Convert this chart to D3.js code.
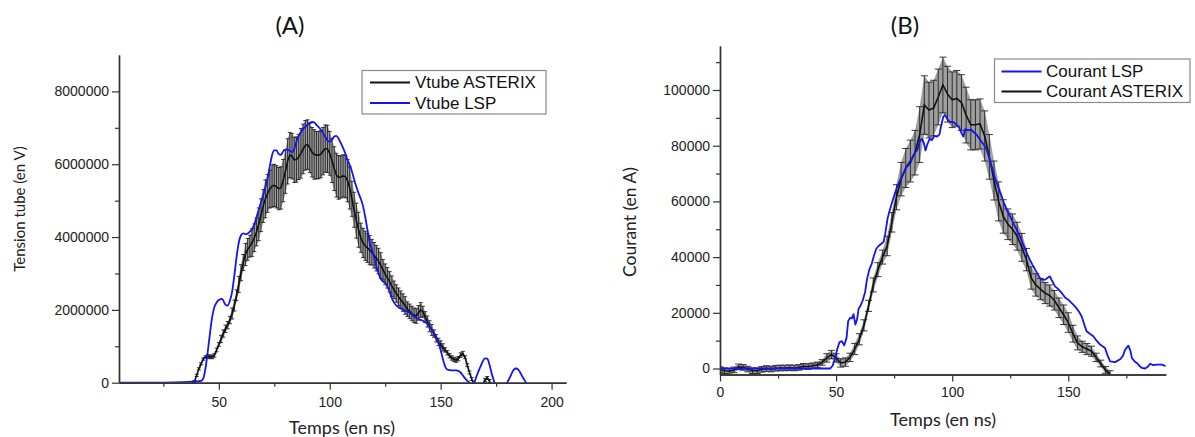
<!DOCTYPE html>
<html>
<head>
<meta charset="utf-8">
<script src="https://cdn.jsdelivr.net/npm/d3@7"></script>
<style>
  body { margin: 0; background: #fff; }
  svg { display: block; }
</style>
</head>
<body>
<svg id="fig" width="1195" height="437"></svg>
<script>
// ---------- Panel (A): tube voltage, values in MV ----------
const asterixA_t = [38,39,40,41,42,43,44,45,46,47,48,49,50,51,52,53,54,55,56,57,58,59,60,61,62,63,64,65,66,67,68,69,70,71,72,73,74,75,76,77,78,79,80,81,82,83,84,85,86,87,88,89,90,91,92,93,94,95,96,97,98,99,100,101,102,103,104,105,106,107,108,109,110,111,112,113,114,115,116,117,118,119,120,121,122,123,124,125,126,127,128,129,130,131,132,133,134,135,136,137,138,139,140,141,142,143,144,145,146,147,148,149,150,151,152,153,154,155,156,157,158,159,160,161,162,163,164,165,166,167,168,169,170,171,172,173,174,175];
const asterixA_v = [0,0.03,0.2,0.38,0.52,0.65,0.71,0.72,0.71,0.71,0.75,0.9,1.05,1.2,1.35,1.48,1.58,1.72,1.9,2.12,2.4,2.7,3.02,3.3,3.52,3.66,3.75,3.85,3.98,4.14,4.35,4.6,4.85,5.05,5.2,5.32,5.4,5.42,5.38,5.33,5.35,5.55,5.8,6.08,6.25,6.22,6.12,6.13,6.2,6.3,6.42,6.52,6.54,6.45,6.33,6.27,6.25,6.25,6.28,6.36,6.43,6.42,6.3,6.1,5.88,5.7,5.64,5.65,5.68,5.66,5.55,5.35,5.05,4.75,4.45,4.2,3.98,3.84,3.76,3.7,3.64,3.58,3.5,3.42,3.34,3.22,3.1,2.98,2.88,2.77,2.65,2.55,2.45,2.36,2.28,2.2,2.12,2.02,1.96,1.9,1.85,1.83,1.92,2.0,1.95,1.8,1.68,1.55,1.45,1.35,1.22,1.12,1.05,0.97,0.9,0.82,0.74,0.68,0.64,0.62,0.66,0.76,0.8,0.7,0.48,0.28,0.1,-0.05,-0.2,-0.3,-0.25,-0.1,0.08,0.13,0.05,-0.15,-0.3,-0.4];
const asterixA_err = [0.03,0.03,0.03,0.03,0.03,0.03,0.03,0.05,0.05,0.05,0.05,0.05,0.05,0.1,0.1,0.1,0.1,0.1,0.15,0.15,0.15,0.22,0.22,0.22,0.3,0.3,0.3,0.38,0.38,0.38,0.45,0.45,0.45,0.52,0.52,0.52,0.58,0.58,0.58,0.58,0.58,0.58,0.6,0.62,0.62,0.62,0.62,0.62,0.62,0.68,0.68,0.68,0.68,0.68,0.68,0.68,0.65,0.65,0.65,0.65,0.65,0.65,0.6,0.6,0.6,0.6,0.6,0.58,0.58,0.58,0.58,0.58,0.48,0.48,0.48,0.48,0.4,0.4,0.4,0.4,0.4,0.35,0.35,0.35,0.35,0.35,0.28,0.28,0.28,0.28,0.28,0.24,0.24,0.24,0.24,0.24,0.24,0.2,0.2,0.2,0.2,0.2,0.2,0.2,0.15,0.15,0.15,0.15,0.15,0.1,0.1,0.1,0.1,0.1,0.06,0.06,0.06,0.06,0.06,0.06,0.06,0.06,0.06,0.04,0.04,0.04,0.04,0.04,0.04,0.04,0.04,0.04,0.04,0.04,0.04,0.04,0.04,0.04];

const lspA_t = [5,20,30,38,41,42,43,44,45,46,47,48,49,50,51.5,53,54,55,56,57,58,59,60,61,62,63,64,65,66,67,68,70,72,73,74,75,76,77,78,79,80,81,82,83,84,85,86,87,88,90,92,93,94,96,98,99,100,101,102,103,104,105,106,107,108,109,110,111,112,113,114,115,116,117,118,119,120,121,122,123,124,125,126,127,128,129,130,132,134,136,138,140,142,144,146,148,149,150,151,152,153,155,157,159,160,161,162,163,164,165,166,168,170,171,172,173,174,175,177,179,180,181,183,184,185,187,188.5,190,193,197,202,206];
const lspA_v = [0,0,0.01,0.03,0.04,0.05,0.12,0.4,0.85,1.35,1.8,2.08,2.2,2.27,2.3,2.14,2.12,2.25,2.5,2.95,3.45,3.85,4.05,4.1,4.08,4.1,4.15,4.22,4.35,4.55,4.75,5.15,5.62,5.95,6.25,6.38,6.38,6.28,6.26,6.35,6.4,6.4,6.37,6.33,6.42,6.62,6.78,6.88,6.97,7.08,7.16,7.15,7.08,6.95,6.75,6.65,6.62,6.68,6.76,6.78,6.7,6.58,6.45,6.3,6.12,5.98,5.8,5.58,5.38,5.2,5.05,4.85,4.55,4.2,3.85,3.65,3.45,3.2,3.0,2.85,2.78,2.74,2.63,2.5,2.32,2.2,2.12,2.04,1.98,1.92,1.82,1.75,1.7,1.62,1.45,1.25,1.12,0.9,0.65,0.45,0.36,0.34,0.34,0.28,0.2,0.12,0.05,0.0,-0.05,-0.02,0.15,0.45,0.67,0.66,0.5,0.25,0.05,-0.15,-0.35,-0.15,0.0,0.12,0.36,0.39,0.36,0.15,0.0,-0.15,-0.3,-0.2,-0.1,-0.1];

const xTicksA = [50, 100, 150, 200];
const xMinorA = [25, 75, 125, 175];
const yTicksA = [0, 2000000, 4000000, 6000000, 8000000];
const yMinorA = [1000000, 3000000, 5000000, 7000000];

// ---------- Panel (B): current, values in kA ----------
const asterixB_t = [0,2,4,6,8,10,12,14,16,18,20,22,24,26,28,30,32,34,36,38,40,42,44,46,48,50,52,54,56,58,60,62,64,66,68,70,72,74,76,78,80,82,84,86,88,90,92,94,96,98,100,102,104,106,108,110,112,114,116,118,120,122,124,126,128,130,132,134,136,138,140,142,144,146,148,150,152,154,156,158,160,162,164,166,168];
const asterixB_v = [-0.4,-0.8,-1.0,-0.5,0.6,0.4,-0.2,-0.8,-0.8,-0.3,0,-0.2,0.1,0.2,0.2,0.3,0.2,0.4,0.8,0.7,1.0,1.3,2.2,3.8,5.0,3.8,2.0,2.3,4.0,7.0,10.5,15.5,22.5,30.0,35.5,40.0,44.0,52.5,61.5,68.0,72.0,74.5,77.5,84.0,94.6,92.8,93.5,97.5,101.8,98.5,96.5,97.0,95.5,91.0,87.5,87.5,87.8,83.5,76.0,67.5,60.0,54.6,51.8,50.0,47.5,43.5,39.1,32.5,30.0,28.5,27.1,26.2,24.5,21.8,19.3,16.5,12.5,9.2,7.8,7.0,6.2,4.0,1.8,-0.5,-2.0];
const asterixB_err = [1,1,1,1,1,1,1,1,1,1,1,1,1,1,1,1,1,1,1,1,1,1,1,1.5,1.5,1.5,1.5,1.5,1.5,2,2,2,2,2.5,2.5,2.5,3.5,3.5,4.5,6,7,7.5,8,10,10.5,10,10,10,10,10,10,10,10,10,9,9,9,9,8,7,7,6,5.5,5.5,5,5,4,4,4,3.8,3.8,3.8,3.5,3.5,3.5,3.5,3,2.5,2,2,1.8,1.5,1.2,1.2,1.2];

const lspB_t = [0,10,20,30,40,47.5,48.5,49.5,50.5,51.5,52.5,53.5,54.5,55.2,56,56.8,57.5,58.3,59,59.7,60.5,61.5,62.5,63.3,64.3,65.3,66.3,67.3,68.3,69.5,70.5,71.2,72.2,73,74,75,76.3,77.5,79,80.5,82,83,84,85,86,87,87.8,88.5,89.3,90.3,91.3,92.3,93.5,94.5,95.2,96.2,97,98,99,100.5,102,103,104,104.8,105.7,106.8,108,109.1,110.5,112,113.5,114.9,116,117,118.2,119.2,120.3,121.3,122.5,123.5,125,126.3,127.7,129.2,130.6,132.1,133.5,134.9,136.4,137.8,139,140,141,142.1,143,144.3,145.7,147.2,148.6,150,151.5,152.9,154.3,155.8,157,157.9,159.3,160.8,162.2,163.7,164.8,165.8,167,168,170.2,172.3,173.5,174.5,175.9,176.7,177.4,178.5,179.5,180.6,181.7,183.1,184.2,185.3,186.5,188.2,190.3,191.2,192];
const lspB_v = [0,0,0,0,0,0,1.0,3.5,7.0,9.5,9.8,8.3,11.0,17.0,18.2,18.0,19.5,15.8,17.5,21.5,22.5,24.5,27.5,32.0,35.5,37.5,40.5,43.0,44.0,44.8,45.5,48.6,54.0,56.5,59.4,62.0,65.3,67.5,70.0,72.5,73.7,76.0,77.5,78.5,81.5,82.5,81.0,78.3,80.5,82.5,82.0,83.5,83.3,84.0,87.0,90.5,91.0,89.5,88.6,88.5,87.4,86.5,84.5,83.3,86.0,85.5,85.8,85.0,84.0,82.1,80.5,78.5,75.5,72.5,69.0,66.6,64.0,61.8,59.0,57.0,54.5,52.2,50.0,47.4,44.5,41.5,39.0,36.7,34.5,32.5,31.8,31.9,32.5,33.1,31.5,29.5,28.5,27.1,25.5,24.7,23.5,22.3,20.8,18.7,15.5,13.4,12.5,11.6,10.0,8.6,8.0,7.4,4.5,2.6,2.3,3.3,4.5,6.8,8.2,6.5,3.8,2.6,2.0,1.0,0.2,0.0,0.6,1.7,1.2,1.4,1.4,1.1,0.8];

const xTicksB = [0, 50, 100, 150];
const xMinorB = [25, 75, 125, 175];
const yTicksB = [0, 20000, 40000, 60000, 80000, 100000];
const yMinorB = [10000, 30000, 50000, 70000, 90000, 110000];

const MV = 1e6, KA = 1e3;
const BLUE = "#1414f0", BLACK = "#111";
const TICK_FONT = "'Liberation Sans', Arial, sans-serif";
const TITLE_FONT = "Lato, 'Open Sans', sans-serif";

const svg = d3.select("#fig");

function zip(ts, vs, es, unit) {
  return ts.map((t, i) => ({ t, v: vs[i] * unit, e: es ? es[i] * unit : 0 }));
}

function drawPanel(o) {
  const g = svg.append("g");
  const x = d3.scaleLinear().domain(o.xDomain).range(o.xRange);
  const y = d3.scaleLinear().domain(o.yDomain).range(o.yRange);

  const clipId = "clip-" + o.id;
  svg.append("clipPath").attr("id", clipId).append("rect")
    .attr("x", o.xRange[0]).attr("y", o.yRange[1])
    .attr("width", o.xRange[1] - o.xRange[0])
    .attr("height", o.yRange[0] - o.yRange[1]);

  const plot = g.append("g").attr("clip-path", `url(#${clipId})`);

  // measured series: shaded band, error bars, mean line
  const meas = o.measured;
  plot.append("path").datum(meas)
    .attr("d", d3.area().x(d => x(d.t)).y0(d => y(d.v - d.e)).y1(d => y(d.v + d.e)))
    .attr("fill", "#8e8e8e").attr("opacity", 0.85);

  const bars = plot.append("g").attr("stroke", "#222").attr("stroke-width", 0.9);
  meas.forEach(d => {
    const xi = x(d.t), lo = y(d.v - d.e), hi = y(d.v + d.e), c = o.cap / 2;
    bars.append("line").attr("x1", xi).attr("x2", xi).attr("y1", lo).attr("y2", hi);
    bars.append("line").attr("x1", xi - c).attr("x2", xi + c).attr("y1", lo).attr("y2", lo);
    bars.append("line").attr("x1", xi - c).attr("x2", xi + c).attr("y1", hi).attr("y2", hi);
  });

  plot.append("path").datum(meas)
    .attr("d", d3.line().x(d => x(d.t)).y(d => y(d.v)))
    .attr("fill", "none").attr("stroke", BLACK).attr("stroke-width", 1.6);

  // simulated series
  plot.append("path").datum(o.simulated)
    .attr("d", d3.line().x(d => x(d.t)).y(d => y(d.v)).curve(o.simCurve))
    .attr("fill", "none").attr("stroke", BLUE).attr("stroke-width", 1.8)
    .attr("stroke-linejoin", "round");

  // axes
  const styleAxis = sel => {
    sel.select(".domain").attr("stroke", "#333").attr("stroke-width", 1.4);
    sel.selectAll(".tick line").attr("stroke", "#333").attr("stroke-width", 1.2);
    sel.selectAll(".tick text").attr("fill", "#222")
      .style("font-family", TICK_FONT).style("font-size", "14px");
  };

  g.append("g").attr("transform", `translate(0,${o.yRange[0]})`)
    .call(d3.axisBottom(x).tickValues(o.xMinor).tickSize(4).tickSizeOuter(0).tickFormat(""))
    .call(styleAxis);
  g.append("g").attr("transform", `translate(0,${o.yRange[0]})`)
    .call(d3.axisBottom(x).tickValues(o.xTicks).tickSize(7).tickPadding(o.xPad).tickSizeOuter(0).tickFormat(d3.format("d")))
    .call(styleAxis);
  g.append("g").attr("transform", `translate(${o.xRange[0]},0)`)
    .call(d3.axisLeft(y).tickValues(o.yMinor).tickSize(4).tickSizeOuter(0).tickFormat(""))
    .call(styleAxis);
  g.append("g").attr("transform", `translate(${o.xRange[0]},0)`)
    .call(d3.axisLeft(y).tickValues(o.yTicks).tickSize(7).tickPadding(3).tickSizeOuter(0).tickFormat(d3.format("d")))
    .call(styleAxis);

  // titles
  g.append("text").attr("x", o.label[0]).attr("y", o.label[1]).attr("dy", "0.35em")
    .attr("text-anchor", "middle").style("font-family", TITLE_FONT).style("font-size", "24px")
    .attr("fill", "#111").text(o.label[2]);
  g.append("text").attr("x", o.xTitle[0]).attr("y", o.xTitle[1]).attr("dy", "0.35em")
    .attr("text-anchor", "middle").style("font-family", TITLE_FONT).style("font-size", "18px")
    .attr("fill", "#222").text(o.xTitle[2]);
  g.append("text").attr("transform", `translate(${o.yTitle[0]},${o.yTitle[1]}) rotate(-90)`)
    .attr("dy", "0.35em").attr("text-anchor", "middle").style("font-family", TITLE_FONT)
    .style("font-size", o.yTitle[3] + "px").attr("fill", "#222").text(o.yTitle[2]);

  // legend
  const L = o.legend;
  const lg = g.append("g");
  lg.append("rect").attr("x", L.x).attr("y", L.y).attr("width", L.w).attr("height", L.h)
    .attr("fill", "#fff").attr("stroke", "#8a8a8a").attr("stroke-width", 1.2);
  L.items.forEach((it, i) => {
    const yy = L.y + L.first + i * L.step;
    lg.append("line").attr("x1", L.x + L.lx0).attr("x2", L.x + L.lx1).attr("y1", yy).attr("y2", yy)
      .attr("stroke", it.color).attr("stroke-width", 2);
    lg.append("text").attr("x", L.x + L.tx).attr("y", yy).attr("dy", "0.35em")
      .style("font-family", TICK_FONT).style("font-size", "17px").attr("fill", "#111").text(it.name);
  });
}

drawPanel({
  id: "A",
  xDomain: [5, 206.5], xRange: [119, 566],
  yDomain: [0, 9000000], yRange: [382.7, 55],
  xTicks: xTicksA, xMinor: xMinorA, yTicks: yTicksA, yMinor: yMinorA, xPad: 7,
  measured: zip(asterixA_t, asterixA_v, asterixA_err, MV),
  simulated: zip(lspA_t, lspA_v, null, MV),
  simCurve: d3.curveMonotoneX, cap: 4,
  label: [290, 26, "(A)"],
  xTitle: [342, 428, "Temps (en ns)"],
  yTitle: [20, 209, "Tension tube (en V)", 15],
  legend: { x: 362, y: 70.5, w: 184, h: 43.5, first: 12, step: 20.6, lx0: 8, lx1: 48, tx: 53,
            items: [{ name: "Vtube ASTERIX", color: BLACK }, { name: "Vtube LSP", color: BLUE }] }
});

drawPanel({
  id: "B",
  xDomain: [0, 192], xRange: [720, 1165.8],
  yDomain: [-2150, 115800], yRange: [374.5, 46],
  xTicks: xTicksB, xMinor: xMinorB, yTicks: yTicksB, yMinor: yMinorB, xPad: 6,
  measured: zip(asterixB_t, asterixB_v, asterixB_err, KA),
  simulated: zip(lspB_t, lspB_v, null, KA),
  simCurve: d3.curveLinear, cap: 7,
  label: [905, 26, "(B)"],
  xTitle: [943, 420, "Temps (en ns)"],
  yTitle: [630, 222, "Courant (en A)", 17.5],
  legend: { x: 994.5, y: 59, w: 195.5, h: 43.5, first: 12.5, step: 20, lx0: 7, lx1: 47, tx: 51.5,
            items: [{ name: "Courant LSP", color: BLUE }, { name: "Courant ASTERIX", color: BLACK }] }
});
</script>
</body>
</html>
